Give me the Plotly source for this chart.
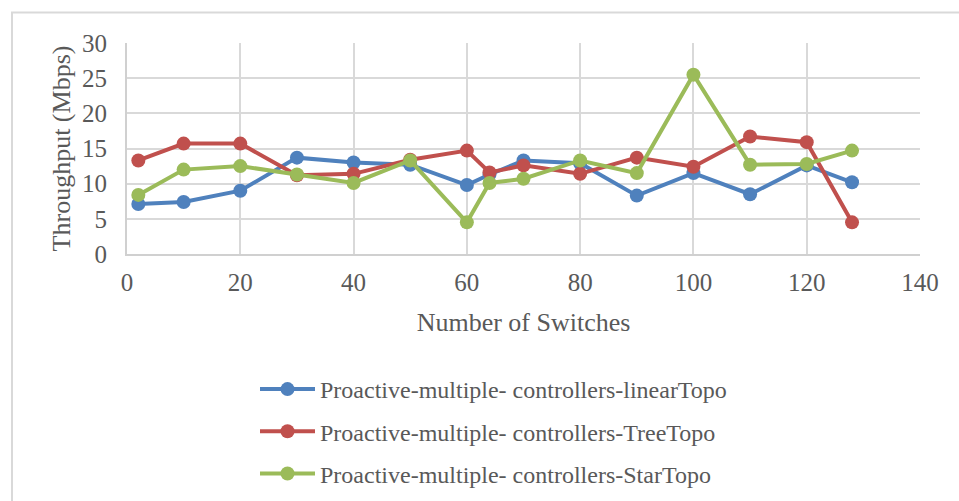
import plotly.graph_objects as go

# Switch counts on the x axis
switches = [2, 10, 20, 30, 40, 50, 60, 64, 70, 80, 90, 100, 110, 120, 128]

# Throughput (Mbps) per topology
linear_topo = [7.1, 7.4, 9.0, 13.7, 13.0, 12.7, 9.8, 11.3, 13.3, 12.9, 8.3, 11.5, 8.5, 12.6, 10.2]
tree_topo = [13.3, 15.7, 15.7, 11.2, 11.4, 13.4, 14.7, 11.6, 12.6, 11.4, 13.7, 12.4, 16.7, 15.9, 4.5]
star_topo = [8.4, 12.0, 12.5, 11.3, 10.1, 13.3, 4.5, 10.1, 10.7, 13.3, 11.5, 25.5, 12.7, 12.8, 14.7]

series_names = [
    "Proactive-multiple- controllers-linearTopo",
    "Proactive-multiple- controllers-TreeTopo",
    "Proactive-multiple- controllers-StarTopo",
]
series_colors = ["#4f81bd", "#c0504d", "#9bbb59"]

x_ticks = [0, 20, 40, 60, 80, 100, 120, 140]
y_ticks = [0, 5, 10, 15, 20, 25, 30]

FONT = "Liberation Serif, serif"
TEXT = "#595959"

fig = go.Figure()
for name, values, color in zip(series_names, [linear_topo, tree_topo, star_topo], series_colors):
    fig.add_trace(go.Scatter(
        x=switches, y=values, name=name, legendgroup=name,
        mode="lines+markers",
        line=dict(color=color, width=4),
        marker=dict(color=color, size=14),
    ))

W, H = 959, 501
ml, mr, mt, mb = 127, 39, 43, 247
pw, ph = W - ml - mr, H - mt - mb


def px_x(p):
    return (p - ml) / pw


def px_y(p):
    return (H - mb - p) / ph


fig.update_layout(
    width=W, height=H,
    margin=dict(l=ml, r=mr, t=mt, b=mb, autoexpand=False),
    paper_bgcolor="white", plot_bgcolor="white",
    font=dict(family=FONT, color=TEXT, size=24),
    xaxis=dict(
        range=[0, 140], tickvals=x_ticks, showgrid=True, gridcolor="#d9d9d9", gridwidth=2,
        showline=True, linecolor="#d0d0d0", linewidth=2, mirror=False, zeroline=False,
        ticks="", ticklabelstandoff=5, automargin=False,
        tickfont=dict(size=25, family=FONT, color=TEXT),
        title=dict(text="Number of Switches", font=dict(size=26, family=FONT, color=TEXT), standoff=18),
    ),
    yaxis=dict(
        range=[0, 30], tickvals=y_ticks, showgrid=True, gridcolor="#d9d9d9", gridwidth=2,
        showline=True, linecolor="#d0d0d0", linewidth=2, zeroline=False,
        ticks="", ticklabelstandoff=13, automargin=False,
        tickfont=dict(size=25, family=FONT, color=TEXT),
        title=dict(text="Throughput (Mbps)", font=dict(size=26, family=FONT, color=TEXT), standoff=4),
    ),
    showlegend=True,
    legend=dict(
        orientation="v", x=px_x(255), y=px_y(367), xanchor="left", yanchor="top",
        font=dict(size=24, family=FONT, color=TEXT),
        itemwidth=55, tracegroupgap=8, bgcolor="rgba(0,0,0,0)",
    ),
    shapes=[
        dict(type="rect", xref="paper", yref="paper",
             x0=px_x(12), x1=px_x(990), y0=px_y(560), y1=px_y(12.5),
             line=dict(color="#d9d9d9", width=2), layer="below"),
    ],
)

fig.write_html("out.html")
